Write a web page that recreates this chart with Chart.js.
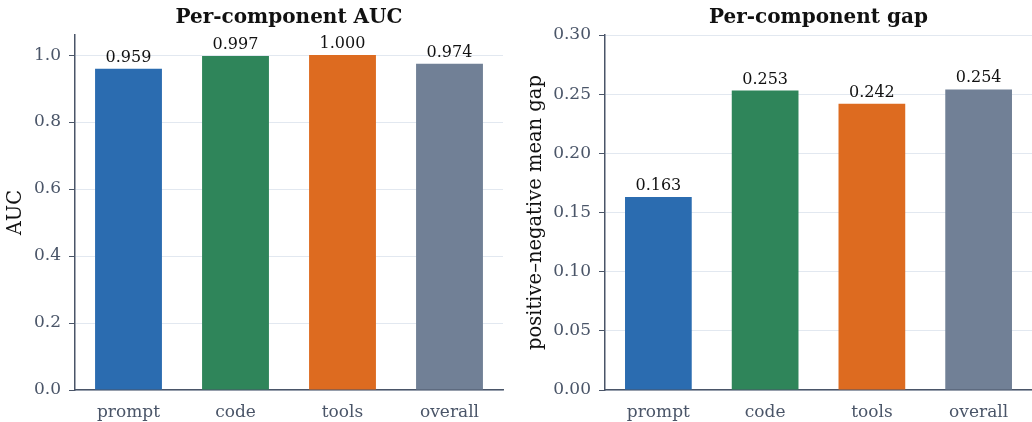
<!DOCTYPE html>
<html><head><meta charset="utf-8">
<script src="https://cdn.jsdelivr.net/npm/chart.js@4.4.1/dist/chart.umd.min.js"></script>
<style>
html,body{margin:0;padding:0;background:#fff;}
#wrap{position:relative;width:1032px;height:422px;overflow:hidden;}
#c1{position:absolute;left:0;top:0;}
#c2{position:absolute;left:520px;top:0;}
</style></head>
<body><div id="wrap">
<canvas id="c1" width="520" height="422"></canvas>
<canvas id="c2" width="512" height="422"></canvas>
</div>
<script>
const categories = ["prompt", "code", "tools", "overall"];
const aucValues = [0.959, 0.997, 1.000, 0.974];
const gapValues = [0.163, 0.253, 0.242, 0.254];
const aucTicks = [0, 0.2, 0.4, 0.6, 0.8, 1.0];
const gapTicks = [0, 0.05, 0.10, 0.15, 0.20, 0.25, 0.30];
const barColors = ["#2B6CB0", "#2F855A", "#DD6B20", "#718096"];

const FONT = "'DejaVu Serif', serif";
const AXIS = "#4A5568";
const GRID = "#E2E8F0";

const valueLabels = {
  id: 'valueLabels',
  afterDatasetsDraw(chart) {
    const ctx = chart.ctx;
    const meta = chart.getDatasetMeta(0);
    const data = chart.data.datasets[0].data;
    ctx.save();
    ctx.font = "16px " + FONT;
    ctx.fillStyle = "#111";
    ctx.textAlign = "center";
    ctx.textBaseline = "alphabetic";
    meta.data.forEach((bar, i) => {
      ctx.fillText(data[i].toFixed(3), bar.x, bar.y - 7);
    });
    ctx.restore();
  }
};

const areaTitle = {
  id: 'areaTitle',
  afterDraw(chart, args, opts) {
    const ctx = chart.ctx;
    const a = chart.chartArea;
    ctx.save();
    ctx.font = "bold 20px " + FONT;
    ctx.fillStyle = "#111";
    ctx.textAlign = "center";
    ctx.textBaseline = "alphabetic";
    ctx.fillText(opts.text, (a.left + a.right) / 2, 23);
    ctx.restore();
  }
};

function makeChart(id, values, ticks, yMax, yTitle, title, yWidth, rightPad, decimals) {
  return new Chart(document.getElementById(id), {
    type: 'bar',
    data: {
      labels: categories,
      datasets: [{
        data: values,
        backgroundColor: barColors,
        borderWidth: 0,
        barPercentage: 0.625,
        categoryPercentage: 1.0
      }]
    },
    options: {
      responsive: false,
      animation: false,
      devicePixelRatio: 1,
      layout: { padding: { top: 35, right: rightPad, bottom: 0, left: 0 } },
      plugins: {
        legend: { display: false },
        tooltip: { enabled: false },
        title: { display: false },
        areaTitle: { text: title }
      },
      scales: {
        x: {
          grid: { display: false, drawOnChartArea: false, drawTicks: true, tickLength: 6, tickColor: AXIS },
          border: { color: AXIS, width: 1.5 },
          ticks: { color: AXIS, font: { family: FONT, size: 17 }, padding: 6 },
          afterFit(s) { s.height = 32; }
        },
        y: {
          min: 0,
          max: yMax,
          afterBuildTicks(s) { s.ticks = ticks.map(v => ({ value: v })); },
          grid: { color: GRID, lineWidth: 1, tickLength: 6, tickColor: AXIS },
          border: { color: AXIS, width: 1.5 },
          ticks: {
            color: AXIS,
            font: { family: FONT, size: 17 },
            padding: 8,
            callback: (v) => Number(v).toFixed(decimals)
          },
          title: {
            display: true,
            text: yTitle,
            color: "#111",
            font: { family: FONT, size: 19.5 },
            padding: { top: 4, bottom: 0 }
          },
          afterFit(s) { s.width = yWidth; }
        }
      }
    },
    plugins: [valueLabels, areaTitle]
  });
}

makeChart('c1', aucValues, aucTicks, 1.06, "AUC", "Per-component AUC", 75, 17, 1);
makeChart('c2', gapValues, gapTicks, 0.30, "positive–negative mean gap", "Per-component gap", 85, 0, 2);
</script>
</body></html>
